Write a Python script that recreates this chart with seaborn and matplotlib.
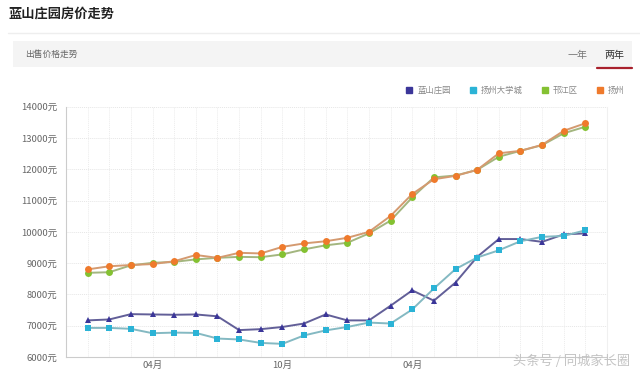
import numpy as np
import pandas as pd
import matplotlib
matplotlib.use("Agg")
import matplotlib.pyplot as plt
import matplotlib.patches as mpatches
from matplotlib.lines import Line2D
import seaborn as sns

sns.set_style("white")
plt.rcParams["font.family"] = ["Noto Sans CJK SC", "DejaVu Sans"]

# --- data (month index 0 = Jan of first year, 24 months) ---
months = list(range(24))
lanshan = [7170, 7200, 7370, 7360, 7350, 7360, 7300, 6860, 6890, 6960, 7070, 7360,
           7170, 7170, 7640, 8130, 7800, 8380, 9200, 9770, 9770, 9680, 9920, 9950]
daxuecheng = [6930, 6930, 6900, 6760, 6780, 6770, 6590, 6560, 6450, 6420, 6690, 6850,
              6960, 7100, 7070, 7520, 8190, 8810, 9180, 9410, 9700, 9840, 9870, 10050]
hanjiang = [8690, 8710, 8930, 9010, 9040, 9120, 9170, 9200, 9190, 9280, 9440, 9570,
            9650, 9950, 10360, 11100, 11740, 11800, 11980, 12400, 12590, 12770, 13150, 13360]
yangzhou = [8800, 8900, 8940, 8970, 9060, 9260, 9170, 9330, 9310, 9520, 9630, 9700,
            9810, 10000, 10510, 11210, 11680, 11790, 11980, 12510, 12590, 12780, 13230, 13470]
series_names = ["蓝山庄园", "扬州大学城", "邗江区", "扬州"]
xtick_pos = [3, 9, 15]
xtick_labels = ["04月", "10月", "04月"]
yticks = [6000, 7000, 8000, 9000, 10000, 11000, 12000, 13000, 14000]

colors = {"蓝山庄园": "#3b3699", "扬州大学城": "#2bb3d6",
          "邗江区": "#84c132", "扬州": "#ef7a2c"}
line_colors = {"蓝山庄园": "#625f98", "扬州大学城": "#84b9c2",
               "邗江区": "#a3b67f", "扬州": "#d49a70"}
markers = {"蓝山庄园": "^", "扬州大学城": "s", "邗江区": "o", "扬州": "o"}

df = pd.DataFrame({
    "month": months * 4,
    "price": lanshan + daxuecheng + hanjiang + yangzhou,
    "area": sum([[n] * 24 for n in series_names], []),
})

fig = plt.figure(figsize=(6.4, 3.73), dpi=100)

# header
fig.text(8 / 640, 1 - 14 / 373, "蓝山庄园房价走势", fontsize=9.5, fontweight="bold",
         color="#222222", va="center", ha="left")
fig.add_artist(Line2D([8 / 640, 1.0], [1 - 33 / 373] * 2, color="#eeeeee", lw=1))
fig.add_artist(mpatches.Rectangle((13 / 640, 1 - 67 / 373), 619 / 640, 26 / 373,
                                  facecolor="#f4f4f4", edgecolor="none"))
fig.text(25 / 640, 1 - 54 / 373, "出售价格走势", fontsize=6.3, color="#666666",
         va="center", ha="left")
fig.text(578 / 640, 1 - 55 / 373, "一年", fontsize=7.2, color="#777777",
         va="center", ha="center")
fig.text(614 / 640, 1 - 55 / 373, "两年", fontsize=7.2, color="#333333",
         va="center", ha="center")
fig.add_artist(Line2D([597 / 640, 632 / 640], [1 - 68 / 373] * 2, color="#a8202c", lw=1.6))

# chart
ax = fig.add_axes([66 / 640, 1 - 357 / 373, 541 / 640, 250.3 / 373])
sns.lineplot(data=df, x="month", y="price", hue="area", style="area",
             hue_order=series_names, style_order=series_names,
             palette=colors, markers=markers, dashes=False,
             markersize=5, markeredgewidth=0, linewidth=1.4, legend=False, ax=ax)
for ln, name in zip(ax.lines, series_names):
    ln.set_color(line_colors[name])
    ln.set_markerfacecolor(colors[name])
    ln.set_markeredgecolor(colors[name])

ax.set_xlim(-1, 24)
ax.set_ylim(6000, 14000)
ax.set_xticks(xtick_pos)
ax.set_xticklabels(xtick_labels)
ax.set_yticks(yticks)
ax.set_yticklabels([f"{v}元" for v in yticks])
ax.tick_params(axis="both", length=0, labelsize=6.8, colors="#666666")
ax.tick_params(axis="y", pad=6)
ax.tick_params(axis="x", pad=3)
ax.set_xlabel("")
ax.set_ylabel("")
for v in yticks[1:]:
    ax.axhline(v, color="#e6e6e6", lw=0.7, ls=(0, (1, 1)), zorder=0)
for m in months:
    ax.axvline(m, color="#ececec", lw=0.7, ls=(0, (1, 1)), zorder=0)
ax.spines["top"].set_visible(False)
ax.spines["right"].set_color("#f0f0f0")
ax.spines["left"].set_color("#cccccc")
ax.spines["bottom"].set_color("#cccccc")

# legend
handles = [Line2D([], [], marker="s", linestyle="", color=colors[n], markersize=4.5)
           for n in series_names]
fig.legend(handles, series_names, ncol=4, loc="center right",
           bbox_to_anchor=(632 / 640, 1 - 90 / 373), frameon=False, fontsize=6,
           handlelength=0.7, handletextpad=0.6, columnspacing=2.3, labelcolor="#888888")

# watermark
fig.text(630 / 640, 1 - 361 / 373, "头条号 / 同城家长圈", fontsize=9.5, color="#c4c4c4",
         ha="right", va="center")

fig.savefig("out.png", dpi=100)
